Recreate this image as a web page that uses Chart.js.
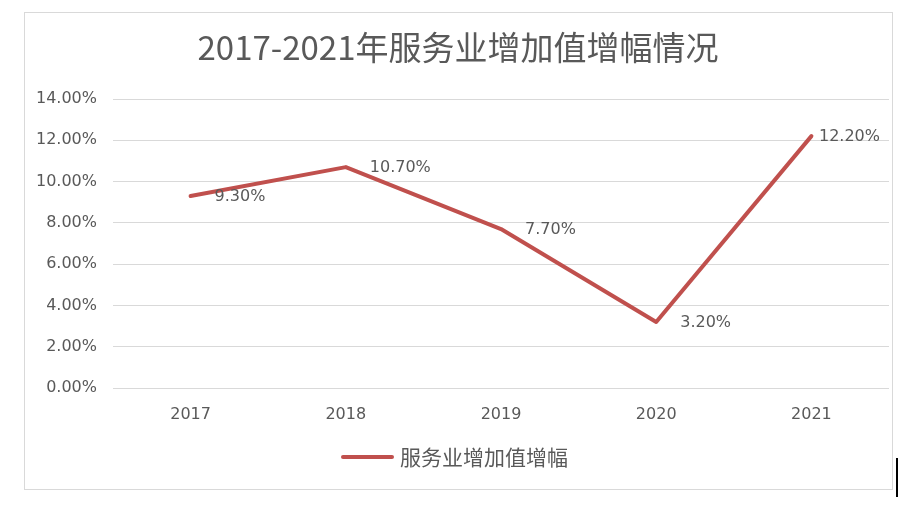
<!DOCTYPE html>
<html>
<head>
<meta charset="utf-8">
<script src="https://cdn.jsdelivr.net/npm/chart.js@4.4.1/dist/chart.umd.min.js"></script>
<style>
  html, body { margin: 0; padding: 0; background: #fff; }
  canvas { display: block; }
</style>
</head>
<body>
<canvas id="chart" width="923" height="515"></canvas>
<script>
const years = ['2017', '2018', '2019', '2020', '2021'];
const growth = [9.3, 10.7, 7.7, 3.2, 12.2];
const seriesName = '服务业增加值增幅';
const chartTitle = '2017-2021年服务业增加值增幅情况';

const TEXT = '#595959';
const GRID = '#d9d9d9';
const RED = '#c0504d';
const LATIN = '"DejaVu Sans", sans-serif';
const CJK = '"Noto Sans CJK SC", "Noto Sans", sans-serif';

// frame, title, legend and the point labels
const decor = {
    id: 'decor',
    beforeDraw(chart) {
        const ctx = chart.ctx;
        ctx.save();
        ctx.fillStyle = '#fff';
        ctx.fillRect(0, 0, chart.width, chart.height);
        ctx.strokeStyle = GRID;
        ctx.lineWidth = 1;
        ctx.strokeRect(24.5, 12.5, 868, 477);
        ctx.restore();
    },
    afterDraw(chart) {
        const ctx = chart.ctx;
        const area = chart.chartArea;
        ctx.save();

        // title
        ctx.fillStyle = TEXT;
        ctx.font = '33px ' + CJK;
        ctx.textAlign = 'center';
        ctx.textBaseline = 'middle';
        ctx.fillText(chartTitle, 458, 47);

        // legend
        ctx.strokeStyle = RED;
        ctx.lineWidth = 4;
        ctx.lineCap = 'round';
        ctx.beginPath();
        ctx.moveTo(343, 457);
        ctx.lineTo(392, 457);
        ctx.stroke();
        ctx.font = '21px ' + CJK;
        ctx.textAlign = 'left';
        ctx.fillText(seriesName, 400, 457);

        // data labels
        ctx.font = '16px ' + LATIN;
        const meta = chart.getDatasetMeta(0);
        meta.data.forEach((pt, i) => {
            const txt = growth[i].toFixed(2) + '%';
            const w = ctx.measureText(txt).width;
            let x = pt.x + 24;
            if (x + w > area.right - 9) x = area.right - 9 - w;
            ctx.fillText(txt, x, pt.y + 1);
        });

        // stray cursor mark at the right edge
        ctx.fillStyle = '#000';
        ctx.fillRect(896, 458, 2, 39);
        ctx.restore();
    }
};

new Chart(document.getElementById('chart'), {
    type: 'line',
    data: {
        labels: years,
        datasets: [{
            label: seriesName,
            data: growth,
            borderColor: RED,
            backgroundColor: RED,
            borderWidth: 4,
            borderCapStyle: 'round',
            borderJoinStyle: 'round',
            tension: 0,
            pointRadius: 0,
            pointHoverRadius: 0,
            fill: false
        }]
    },
    options: {
        responsive: false,
        animation: false,
        devicePixelRatio: 1,
        layout: {
            padding: { left: 0, top: 99, right: 34, bottom: 80 }
        },
        plugins: {
            legend: { display: false },
            title: { display: false },
            tooltip: { enabled: false }
        },
        scales: {
            x: {
                offset: true,
                grid: { display: false },
                border: { display: false },
                ticks: {
                    color: TEXT,
                    font: { family: LATIN, size: 16 },
                    padding: 9,
                    maxRotation: 0
                },
                afterFit(scale) { scale.height = 47; }
            },
            y: {
                min: 0,
                max: 14,
                grid: { color: GRID, lineWidth: 1, drawTicks: false },
                border: { display: false },
                ticks: {
                    stepSize: 2,
                    color: TEXT,
                    font: { family: LATIN, size: 16 },
                    padding: 16,
                    callback: v => v.toFixed(2) + '%'
                },
                afterFit(scale) { scale.width = 113; }
            }
        }
    },
    plugins: [decor]
});
</script>
</body>
</html>
